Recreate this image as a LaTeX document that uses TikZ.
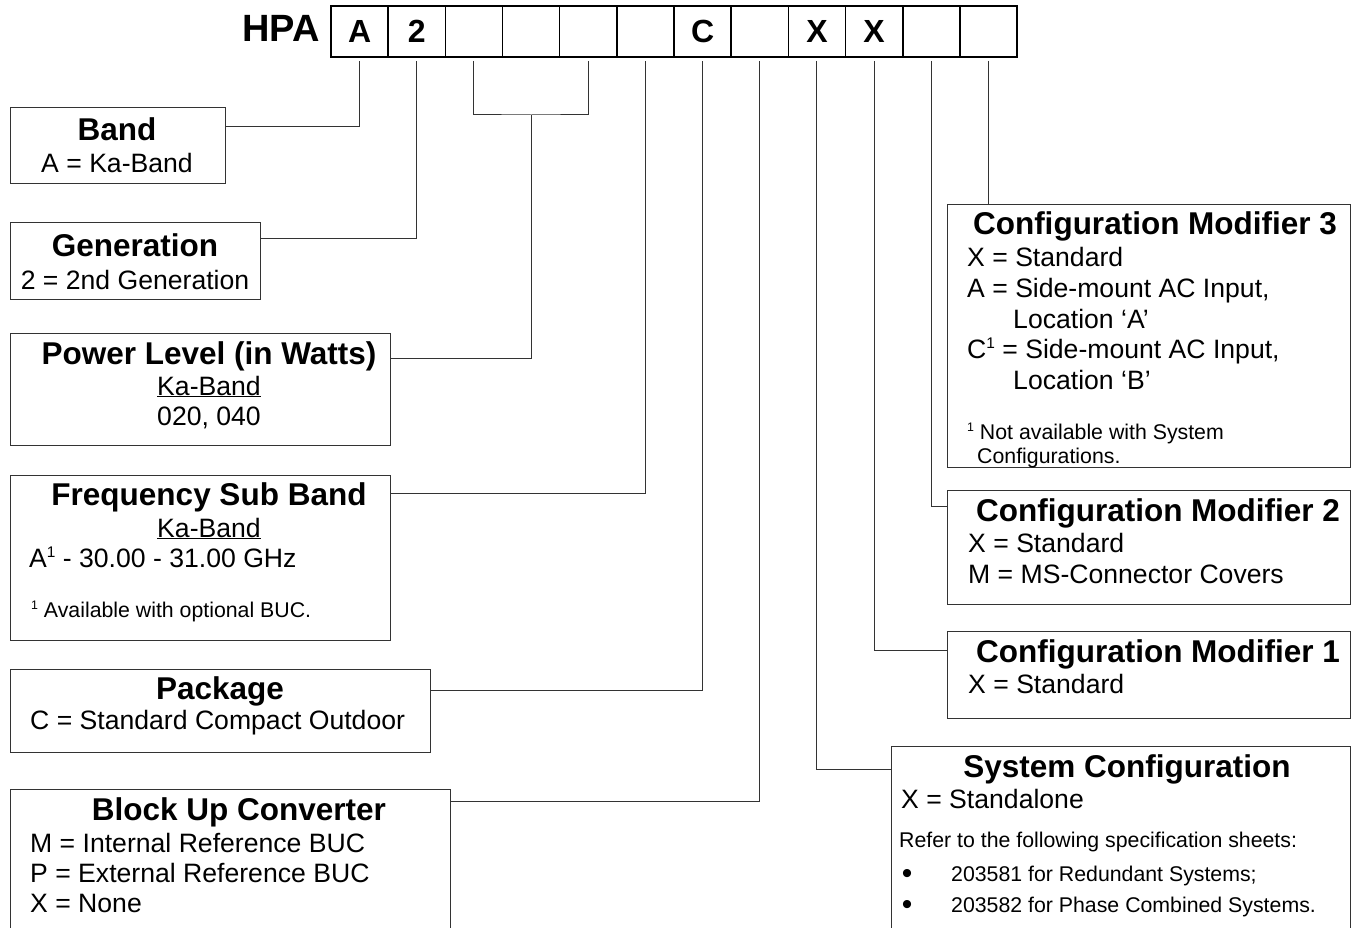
\documentclass[tikz,border=0pt]{standalone}
\usepackage{fontspec}
\setmainfont{Liberation Sans}
\usepackage{tikz}
\usetikzlibrary{positioning}
\newcommand{\supone}{\raisebox{0.36em}{\scalebox{0.58}{1}}}

\begin{document}
\begin{tikzpicture}[
  x=1pt, y=-1pt,
  box/.style={draw=black!80, line width=1.1pt, anchor=north west, inner sep=0pt},
  cell/.style={draw, line width=1.6pt, minimum width=57.17pt, minimum height=51pt, inner sep=0pt, font=\fontsize{32}{36}\selectfont\bfseries},
  ttl/.style={anchor=base, inner sep=0pt, font=\fontsize{31.5}{36}\selectfont\bfseries},
  txt/.style={anchor=base west, inner sep=0pt, font=\fontsize{26.6}{30}\selectfont},
  ctr/.style={anchor=base, inner sep=0pt, font=\fontsize{26.6}{30}\selectfont},
  note/.style={anchor=base west, inner sep=0pt, font=\fontsize{21.3}{24}\selectfont},
  dot/.style={anchor=base, inner sep=0pt, font=\fontsize{30}{30}\selectfont},
  link/.style={draw=black!80, line width=1pt}
]
  \useasboundingbox (0,0) rectangle (1355,928);

  % model number
  \node[anchor=base, inner sep=0pt, font=\fontsize{38}{42}\selectfont\bfseries] (hpa) at (281,42) {HPA};
  \foreach \i/\t in {1/A,2/2,3/{},4/{},5/{},6/{},7/C,8/{},9/X,10/X,11/{},12/{}}
    \node[cell] (c\i) at ({331+57.17*(\i-0.5)},31.5) {\t};

  % left column
  \node[box, minimum width=215pt, minimum height=76pt] (band) at (10,107) {};
  \node[ttl] (bandT) at (117,141) {Band};
  \node[ctr] (bandA) at (117,173) {A = Ka-Band};

  \node[box, minimum width=250pt, minimum height=77pt] (gen) at (10,222) {};
  \node[ttl] (genT) at (135,257) {Generation};
  \node[ctr] (gen2) at (135,289) {2 = 2nd Generation};

  \node[box, minimum width=380pt, minimum height=112pt] (power) at (10,333) {};
  \node[ttl] (powerT) at (209,364) {Power Level (in Watts)};
  \node[ctr] (powerKa) at (209,395) {\underline{Ka-Band}};
  \node[ctr] (powerW) at (209,425) {020, 040};

  \node[box, minimum width=380pt, minimum height=165pt] (freq) at (10,475) {};
  \node[ttl] (freqT) at (209,505) {Frequency Sub Band};
  \node[ctr] (freqKa) at (209,537) {\underline{Ka-Band}};
  \node[txt] (freqA) at (29,567) {A\supone{} - 30.00 - 31.00 GHz};
  \node[note] (freqN) at (31,617) {\supone{} Available with optional BUC.};

  \node[box, minimum width=420pt, minimum height=83pt] (pkg) at (10,669) {};
  \node[ttl] (pkgT) at (220,699) {Package};
  \node[txt] (pkgC) at (30,729) {C = Standard Compact Outdoor};

  \node[box, minimum width=440pt, minimum height=160pt] (buc) at (10,789) {};
  \node[ttl] (bucT) at (239,820) {Block Up Converter};
  \node[txt] (bucM) at (30,852) {M = Internal Reference BUC};
  \node[txt] (bucP) at (30,882) {P = External Reference BUC};
  \node[txt] (bucX) at (30,912) {X = None};

  % right column
  \node[box, minimum width=403pt, minimum height=263pt] (cm3) at (947,204) {};
  \node[ttl] (cm3T) at (1155,235) {Configuration Modifier 3};
  \node[txt] (cm3X) at (967,266) {X = Standard};
  \node[txt] (cm3A) at (967,297) {A = Side-mount AC Input,};
  \node[txt] (cm3LA) at (1013,328) {Location ‘A’};
  \node[txt] (cm3C) at (967,358) {C\supone{} = Side-mount AC Input,};
  \node[txt] (cm3LB) at (1013,389) {Location ‘B’};
  \node[note] (cm3N) at (967,439) {\supone{} Not available with System};
  \node[note] (cm3N2) at (977,463) {Configurations.};

  \node[box, minimum width=403pt, minimum height=114pt] (cm2) at (947,490) {};
  \node[ttl] (cm2T) at (1158,521) {Configuration Modifier 2};
  \node[txt] (cm2X) at (968,552) {X = Standard};
  \node[txt] (cm2M) at (968,583) {M = MS-Connector Covers};

  \node[box, minimum width=403pt, minimum height=87pt] (cm1) at (947,631) {};
  \node[ttl] (cm1T) at (1158,662) {Configuration Modifier 1};
  \node[txt] (cm1X) at (968,693) {X = Standard};

  \node[box, minimum width=459pt, minimum height=200pt] (sys) at (891,746) {};
  \node[ttl] (sysT) at (1127,777) {System Configuration};
  \node[txt] (sysX) at (901,808) {X = Standalone};
  \node[note] (sysR) at (899,847) {Refer to the following specification sheets:};
  \node[dot] (sysB1) at (907,883) {\textbullet};
  \node[note] (sysS1) at (951,881) {203581 for Redundant Systems;};
  \node[dot] (sysB2) at (907,914) {\textbullet};
  \node[note] (sysS2) at (951,912) {203582 for Phase Combined Systems.};

  % connectors
  \coordinate (brk) at (c4.south |- 0,115);
  \draw[link] ([yshift=-20pt]band.north east) -| ([yshift=-3pt]c1.south);
  \draw[link] ([yshift=-17pt]gen.north east) -| ([yshift=-3pt]c2.south);
  \draw[link] ([yshift=-3pt]c3.south) |- (brk) -| ([yshift=-3pt]c5.south);
  \draw[link] (brk) |- ([yshift=-25pt]power.north east);
  \draw[link] ([yshift=-18pt]freq.north east) -| ([yshift=-3pt]c6.south);
  \draw[link] ([yshift=-21pt]pkg.north east) -| ([yshift=-3pt]c7.south);
  \draw[link] ([yshift=-12pt]buc.north east) -| ([yshift=-3pt]c8.south);
  \draw[link] ([yshift=-3pt]c9.south) |- ([yshift=-23pt]sys.north west);
  \draw[link] ([yshift=-3pt]c10.south) |- ([yshift=-19pt]cm1.north west);
  \draw[link] ([yshift=-3pt]c11.south) |- ([yshift=-16pt]cm2.north west);
  \draw[link] ([yshift=-3pt]c12.south) -- (c12.south |- cm3.north);
\end{tikzpicture}
\end{document}
